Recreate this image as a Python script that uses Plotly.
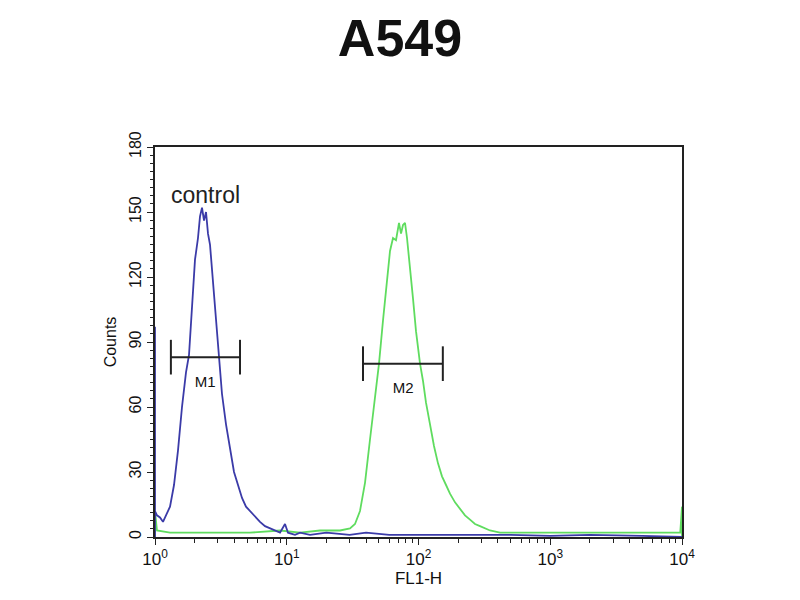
import plotly.graph_objects as go

# FL1-H channel values and counts
blue_x = [1.0, 1.0, 1.0, 1.035, 1.091, 1.15, 1.212, 1.30, 1.394, 1.495, 1.603, 1.719, 1.812, 1.909,
          2.012, 2.12, 2.196, 2.274, 2.355, 2.439, 2.525, 2.615, 2.756, 2.904, 3.06,
          3.225, 3.459, 3.709, 3.978, 4.266, 4.575, 4.906, 5.261, 5.741, 6.266, 6.838,
          7.463, 8.287, 8.887, 9.70, 10.22, 11.55, 12.61, 15.02, 20, 30, 40, 60, 100,
          150, 300, 500, 1000, 2000, 5000, 10000]
blue_y = [0, 97, 12, 10, 9, 7, 10, 14, 24, 40, 60, 76, 84, 105,
          128, 138, 148, 152, 146, 150, 140, 135, 118, 100, 82,
          66, 52, 40, 30, 24, 18, 14, 12, 9, 7, 5,
          4, 3, 2, 6, 2, 1, 2, 1, 2, 1, 2, 1, 1,
          1, 1, 1, 0.5, 1, 0.5, 0]

green_x = [1.0, 1.0, 1.035, 1.3, 2.196, 5.261, 8.887, 12.61, 17.9, 25.36, 30.21, 32.96, 35.97,
           39.26, 42.84, 46.75, 50.14, 53.78, 57.68, 60.78, 64.05, 67.5, 71.12, 73.66,
           76.28, 78.99, 81.8, 86.21, 90.85, 95.73, 102.7, 108.2, 114.0, 122.3, 131.1,
           140.6, 150.8, 161.8, 173.4, 189.3, 206.5, 225.4, 246.0, 268.4, 293.0, 349.0,
           415.6, 1000, 2000, 5000, 9700, 10000, 10000]
green_y = [0, 12, 3, 2, 2, 2, 3, 2, 3, 3, 4, 6, 12,
           25, 45, 65, 80, 100, 120, 132, 138, 137, 145, 140,
           144, 145, 138, 125, 110, 95, 80, 72, 62, 52, 42,
           34, 28, 24, 20, 16, 13, 10, 8, 6, 5, 3,
           2, 2, 2, 2, 2, 14, 0]

# gate markers: name, left, right, height, label position
gates = [("M1", 1.32, 4.42, 83, 2.4, 71),
         ("M2", 37.9, 153, 80, 76.5, 68)]

x_ticks = [1, 10, 100, 1000, 10000]
x_labels = ["10<sup>0</sup>", "10<sup>1</sup>", "10<sup>2</sup>", "10<sup>3</sup>", "10<sup>4</sup>"]
x_minor = [m * d for d in (1, 10, 100, 1000) for m in range(2, 10)]
y_ticks = [0, 30, 60, 90, 120, 150, 180]

fig = go.Figure()
fig.add_trace(go.Scatter(x=green_x, y=green_y, mode="lines",
                         line=dict(color="#5fdc5f", width=1.8), hoverinfo="skip"))
fig.add_trace(go.Scatter(x=blue_x, y=blue_y, mode="lines",
                         line=dict(color="#3b3ba8", width=1.8), hoverinfo="skip"))

for name, x0, x1, h, lx, ly in gates:
    fig.add_trace(go.Scatter(
        x=[x0, x0, None, x0, x1, None, x1, x1],
        y=[h - 8, h + 8, None, h, h, None, h - 8, h + 8],
        mode="lines", line=dict(color="#222", width=2), hoverinfo="skip"))
    fig.add_trace(go.Scatter(x=[lx], y=[ly], mode="text", text=[name],
                             textfont=dict(size=15, color="#111", family="Liberation Sans Narrow, Liberation Sans"),
                             hoverinfo="skip"))

fig.add_annotation(x=0.027, y=0.915, xref="paper", yref="paper", text="control",
                   showarrow=False, xanchor="left",
                   font=dict(size=23, color="#222", family="Liberation Sans"))

fig.update_layout(
    width=800, height=600,
    margin=dict(l=147, r=126, t=139, b=71),
    paper_bgcolor="white", plot_bgcolor="white",
    showlegend=False,
    font=dict(family="Liberation Sans", color="#111"),
    title=dict(text="<b>A549</b>", x=0.49, y=0.95, xanchor="center", yanchor="middle",
               font=dict(size=52, color="#111", family="Liberation Sans")),
    xaxis=dict(type="log", range=[0, 4], tickvals=x_ticks, ticktext=x_labels,
               showline=True, linecolor="#222", linewidth=2, mirror=True, layer="below traces",
               ticks="outside", ticklen=6, tickcolor="#222", showgrid=False, zeroline=False,
               minor=dict(tickvals=x_minor, ticks="outside", ticklen=4, tickcolor="#222",
                          showgrid=False),
               tickfont=dict(size=17),
               title=dict(text="FL1-H", font=dict(size=17), standoff=4)),
    yaxis=dict(range=[0, 180], tickvals=y_ticks, tickangle=-90,
               showline=True, linecolor="#222", linewidth=2, mirror=True, layer="below traces",
               ticks="outside", ticklen=6, tickcolor="#222", showgrid=False, zeroline=False,
               minor=dict(dtick=3.75, ticks="outside", ticklen=3, tickcolor="#222", showgrid=False),
               tickfont=dict(size=16),
               title=dict(text="Counts", font=dict(size=16), standoff=6)),
)

fig.write_html("out.html")
